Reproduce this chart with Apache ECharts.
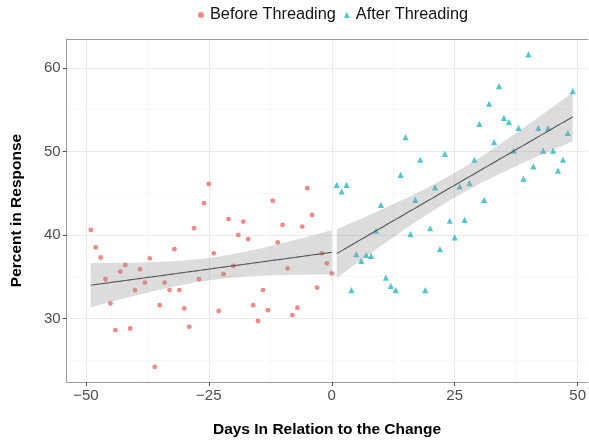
<!DOCTYPE html>
<html><head><meta charset="utf-8">
<script src="https://cdn.jsdelivr.net/npm/echarts@6/dist/echarts.min.js"></script>
<style>html,body{margin:0;padding:0;background:#fff}#c{width:589px;height:443px}</style>
</head><body><div id="c"></div>
<script>
const seriesNames = ['Before Threading', 'After Threading'];
const beforeDays = [-49,-48,-47,-46,-45,-44,-43,-42,-41,-40,-39,-38,-37,-36,-35,-34,-33,-32,-31,-30,-29,-28,-27,-26,-25,-24,-23,-22,-21,-20,-19,-18,-17,-16,-15,-14,-13,-12,-11,-10,-9,-8,-7,-6,-5,-4,-3,-2,-1,0];
const beforeValues = [40.6,38.5,37.3,34.7,31.8,28.6,35.6,36.4,28.8,33.4,35.9,34.3,37.2,24.2,31.6,34.3,33.4,38.3,33.4,31.2,29.0,40.8,34.7,43.8,46.1,37.8,30.9,35.3,41.9,36.3,40.0,41.6,39.5,31.6,29.7,33.4,31.0,44.1,39.1,41.2,36.0,30.4,31.3,41.0,45.6,42.4,33.7,37.8,36.6,35.4];
const afterDays = [1,2,3,4,5,6,7,8,9,10,11,12,13,14,15,16,17,18,19,20,21,22,23,24,25,26,27,28,29,30,31,32,33,34,35,36,37,38,39,40,41,42,43,44,45,46,47,48,49];
const afterValues = [46.0,45.2,46.0,33.4,37.7,36.9,37.6,37.5,40.5,43.6,34.9,33.9,33.4,47.2,51.7,40.1,44.2,49.0,33.4,40.8,45.7,38.3,49.7,41.7,39.7,45.8,41.8,46.2,49.0,53.3,44.2,55.7,51.1,57.8,54.0,53.5,50.1,52.8,46.7,61.6,48.2,52.8,50.1,52.8,50.1,47.7,49.0,52.2,57.2];
const xTicks = [-50, -25, 0, 25, 50];
const xMinorTicks = [-37.5, -12.5, 12.5, 37.5];
const yTicks = [30, 40, 50, 60];
const yMinorTicks = [25, 35, 45, 55];

const FONT = '"Liberation Sans", Arial, Helvetica, sans-serif';
const RED = '#EE6A64', TEAL = '#27B8C2';
const BORDER = '#9a9a9a';

function tQuantile975(df) {
  const z = 1.959964;
  return z + (z*z*z + z) / (4*df) + (5*Math.pow(z,5) + 16*z*z*z + 3*z) / (96*df*df);
}
// linear model fit with 95% confidence band (as geom_smooth(method = "lm"))
function lmFit(xs, ys) {
  const n = xs.length;
  const xbar = xs.reduce((a,b)=>a+b,0)/n, ybar = ys.reduce((a,b)=>a+b,0)/n;
  let sxx = 0, sxy = 0;
  for (let i=0;i<n;i++){ sxx += (xs[i]-xbar)**2; sxy += (xs[i]-xbar)*(ys[i]-ybar); }
  const b = sxy/sxx, a = ybar - b*xbar;
  let sse = 0;
  for (let i=0;i<n;i++){ sse += (ys[i]-a-b*xs[i])**2; }
  const s = Math.sqrt(sse/(n-2)), t = tQuantile975(n-2);
  const lo = Math.min(...xs), hi = Math.max(...xs);
  const line = [], band = [];
  const steps = 80;
  for (let k=0;k<=steps;k++){
    const x = lo + (hi-lo)*k/steps;
    const y = a + b*x;
    const se = s*Math.sqrt(1/n + (x-xbar)**2/sxx);
    line.push([x, y]);
    band.push([x, y - t*se, y + t*se]);
  }
  return {line, band};
}
const fitBefore = lmFit(beforeDays, beforeValues);
const fitAfter = lmFit(afterDays, afterValues);

function bandSeries(band) {
  return {
    type: 'custom', silent: true, z: 3,
    data: band, encode: {x: 0, y: [1, 2]},
    renderItem: function (params, api) {
      if (params.dataIndex !== 0) return null;
      const pts = [];
      for (let i=0;i<band.length;i++) pts.push(api.coord([band[i][0], band[i][2]]));
      for (let i=band.length-1;i>=0;i--) pts.push(api.coord([band[i][0], band[i][1]]));
      return {type: 'polygon', shape: {points: pts}, style: {fill: 'rgba(150,150,150,0.33)'}};
    }
  };
}
function lineSeries(line) {
  return {type: 'line', data: line, showSymbol: false, silent: true, z: 4,
    lineStyle: {color: '#555555', width: 1.1}};
}
const gridLineData = []
  .concat(xTicks.map(v => ({xAxis: v, lineStyle: {color: '#EBEBEB', width: 1.1, type: 'solid'}})))
  .concat(xMinorTicks.map(v => ({xAxis: v, lineStyle: {color: '#F3F3F3', width: 0.7, type: 'solid'}})))
  .concat(yTicks.map(v => ({yAxis: v, lineStyle: {color: '#EBEBEB', width: 1.1, type: 'solid'}})))
  .concat(yMinorTicks.map(v => ({yAxis: v, lineStyle: {color: '#F3F3F3', width: 0.7, type: 'solid'}})));

const fmt = v => String(v).replace('-', '\u2212');

const chart = echarts.init(document.getElementById('c'), null, {renderer: 'canvas'});
chart.setOption({
  animation: false,
  backgroundColor: '#fff',
  textStyle: {fontFamily: FONT},
  legend: {
    data: [{name: seriesNames[0], icon: 'circle'}, {name: seriesNames[1], icon: 'triangle'}],
    left: 193, top: 2, itemWidth: 6, itemHeight: 6, itemGap: 8,
    textStyle: {fontSize: 16.3, color: '#111', fontFamily: FONT, padding: [0, 0, 0, 1]}
  },
  grid: {left: 66.7, top: 39, right: 0, height: 345.1, show: false},
  xAxis: [{
    type: 'value', min: -53.9, max: 51.98, position: 'bottom',
    name: 'Days In Relation to the Change', nameLocation: 'middle', nameGap: 40,
    nameTextStyle: {fontSize: 15.5, fontWeight: 'bold', color: '#000', fontFamily: FONT},
    axisLine: {show: true, onZero: false, lineStyle: {color: BORDER, width: 1}},
    axisTick: {show: true, customValues: xTicks, length: 4, lineStyle: {color: '#555'}},
    axisLabel: {customValues: xTicks, formatter: fmt, fontSize: 15, color: '#4D4D4D', margin: 6, fontFamily: FONT},
    splitLine: {show: false}
  }, {
    type: 'value', min: -53.9, max: 51.98, position: 'top',
    axisLine: {show: true, onZero: false, lineStyle: {color: BORDER, width: 1}},
    axisTick: {show: false}, axisLabel: {show: false}, splitLine: {show: false}
  }],
  yAxis: {
    type: 'value', min: 22.4, max: 63.45, position: 'left',
    name: 'Percent in Response', nameLocation: 'middle', nameGap: 42,
    nameTextStyle: {fontSize: 15.5, fontWeight: 'bold', color: '#000', fontFamily: FONT},
    axisLine: {show: true, onZero: false, lineStyle: {color: BORDER, width: 1}},
    axisTick: {show: true, customValues: yTicks, length: 4, lineStyle: {color: '#555'}},
    axisLabel: {customValues: yTicks, formatter: fmt, fontSize: 15, color: '#4D4D4D', margin: 6, fontFamily: FONT},
    splitLine: {show: false}
  },
  series: [
    {type: 'scatter', data: [], z: 0, silent: true,
      markLine: {z: 0, silent: true, symbol: ['none', 'none'], label: {show: false}, animation: false, data: gridLineData}},
    {name: seriesNames[0], type: 'scatter', symbol: 'circle', symbolSize: 4.8, z: 2,
      itemStyle: {color: RED}, data: beforeDays.map((d, i) => [d, beforeValues[i]])},
    {name: seriesNames[1], type: 'scatter', symbol: 'triangle', symbolSize: 6.2, z: 2,
      itemStyle: {color: TEAL}, data: afterDays.map((d, i) => [d, afterValues[i]])},
    bandSeries(fitBefore.band),
    bandSeries(fitAfter.band),
    lineSeries(fitBefore.line),
    lineSeries(fitAfter.line)
  ]
});
</script></body></html>
